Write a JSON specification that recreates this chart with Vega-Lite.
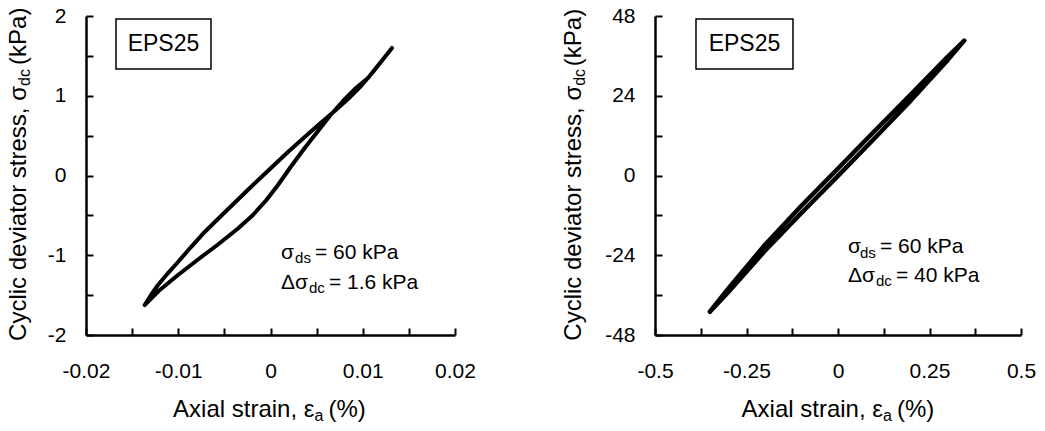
{
  "$schema": "https://vega.github.io/schema/vega-lite/v6.json",
  "background": "white",
  "padding": {"left": 7, "top": 5, "right": 5, "bottom": 5},
  "bounds": "flush",
  "spacing": 200,
  "config": {
    "view": {"stroke": null},
    "font": "Liberation Sans",
    "axis": {
      "domainColor": "black", "domainWidth": 2.5,
      "tickColor": "black", "tickWidth": 2, "tickSize": -7,
      "labelColor": "black", "labelFont": "Liberation Sans", "labelFontSize": 21,
      "labelFlush": false, "labelOverlap": false, "labelBound": false,
      "grid": false
    },
    "axisY": {"labelPadding": 27},
    "axisX": {"labelPadding": 32},
    "text": {"font": "Liberation Sans", "color": "black"}
  },
  "hconcat": [
    {
      "width": 369, "height": 319,
      "data": {"values": [
        {"k": "loop", "i": 0, "x": -0.013637, "y": -1.624},
        {"k": "loop", "i": 1, "x": -0.012100, "y": -1.445},
        {"k": "loop", "i": 2, "x": -0.010027, "y": -1.248},
        {"k": "loop", "i": 3, "x": -0.007859, "y": -1.053},
        {"k": "loop", "i": 4, "x": -0.005691, "y": -0.865},
        {"k": "loop", "i": 5, "x": -0.003523, "y": -0.665},
        {"k": "loop", "i": 6, "x": -0.001897, "y": -0.495},
        {"k": "loop", "i": 7, "x": -0.000488, "y": -0.313},
        {"k": "loop", "i": 8, "x": 0.000813, "y": -0.119},
        {"k": "loop", "i": 9, "x": 0.002222, "y": 0.113},
        {"k": "loop", "i": 10, "x": 0.003707, "y": 0.345},
        {"k": "loop", "i": 11, "x": 0.005149, "y": 0.558},
        {"k": "loop", "i": 12, "x": 0.006558, "y": 0.765},
        {"k": "loop", "i": 13, "x": 0.007859, "y": 0.934},
        {"k": "loop", "i": 14, "x": 0.009268, "y": 1.097},
        {"k": "loop", "i": 15, "x": 0.010569, "y": 1.223},
        {"k": "loop", "i": 16, "x": 0.013171, "y": 1.599},
        {"k": "loop", "i": 17, "x": 0.011111, "y": 1.298},
        {"k": "loop", "i": 18, "x": 0.00981, "y": 1.122},
        {"k": "loop", "i": 19, "x": 0.008401, "y": 0.959},
        {"k": "loop", "i": 20, "x": 0.006959, "y": 0.809},
        {"k": "loop", "i": 21, "x": 0.005366, "y": 0.652},
        {"k": "loop", "i": 22, "x": 0.003707, "y": 0.483},
        {"k": "loop", "i": 23, "x": 0.001897, "y": 0.295},
        {"k": "loop", "i": 24, "x": 0.000054, "y": 0.094},
        {"k": "loop", "i": 25, "x": -0.001789, "y": -0.107},
        {"k": "loop", "i": 26, "x": -0.003523, "y": -0.301},
        {"k": "loop", "i": 27, "x": -0.005366, "y": -0.508},
        {"k": "loop", "i": 28, "x": -0.007133, "y": -0.708},
        {"k": "loop", "i": 29, "x": -0.008618, "y": -0.897},
        {"k": "loop", "i": 30, "x": -0.010027, "y": -1.085},
        {"k": "loop", "i": 31, "x": -0.011111, "y": -1.223},
        {"k": "loop", "i": 32, "x": -0.012195, "y": -1.373},
        {"k": "loop", "i": 33, "x": -0.012954, "y": -1.498},
        {"k": "loop", "i": 34, "x": -0.013637, "y": -1.624},
        {"k": "box", "x": -0.01675, "x2": -0.00645, "y": 1.335, "y2": 1.962},
        {"k": "lab", "x": -0.0116, "y": 1.649, "t": "EPS25"},
        {"k": "am", "x": 0.00114, "y": -1.047, "t": "σ"},
        {"k": "am", "x": 0.00482, "y": -1.047, "t": "= 60 kPa"},
        {"k": "am", "x": 0.00114, "y": -1.423, "t": "Δσ"},
        {"k": "am", "x": 0.00634, "y": -1.423, "t": "= 1.6 kPa"},
        {"k": "as", "x": 0.00266, "y": -1.097, "t": "ds"},
        {"k": "as", "x": 0.00417, "y": -1.473, "t": "dc"},
        {"k": "xt", "x": 0.00477, "y": -3.028, "t": "Axial strain, ε"},
        {"k": "xs", "x": 0.00477, "y": -3.078, "t": "a"},
        {"k": "xe", "x": 0.00629, "y": -3.028, "t": "(%)"},
        {"k": "yt", "x": -0.0265, "y": 1.122, "t": "Cyclic deviator stress, σ"},
        {"k": "ys", "x": -0.02607, "y": 1.122, "t": "dc"},
        {"k": "ye", "x": -0.0265, "y": 1.386, "t": "(kPa)"}
      ]},
      "encoding": {
        "x": {"field": "x", "type": "quantitative", "title": null,
          "scale": {"domain": [-0.02, 0.02], "nice": false, "zero": false},
          "axis": {"values": [-0.02, -0.015, -0.01, -0.005, 0, 0.005, 0.01, 0.015, 0.02],
            "labelExpr": "indexof([-0.02, -0.01, 0, 0.01, 0.02], datum.value) >= 0 ? '' + datum.value : ''"}},
        "y": {"field": "y", "type": "quantitative", "title": null,
          "scale": {"domain": [-2, 2], "nice": false, "zero": false},
          "axis": {"values": [-2, -1.5, -1, -0.5, 0, 0.5, 1, 1.5, 2],
            "labelExpr": "datum.value % 1 === 0 ? '' + datum.value : ''"}}
      },
      "layer": [
        {"transform": [{"filter": "datum.k === 'loop'"}],
         "mark": {"type": "line", "color": "black", "strokeWidth": 4, "strokeCap": "round", "strokeJoin": "round"},
         "encoding": {"order": {"field": "i", "type": "quantitative"}}},
        {"transform": [{"filter": "datum.k === 'box'"}],
         "mark": {"type": "rect", "fill": "white", "stroke": "black", "strokeWidth": 1.5},
         "encoding": {"x2": {"field": "x2"}, "y2": {"field": "y2"}}},
        {"transform": [{"filter": "datum.k === 'lab'"}],
         "mark": {"type": "text", "fontSize": 23, "align": "center", "baseline": "middle"},
         "encoding": {"text": {"field": "t"}}},
        {"transform": [{"filter": "datum.k === 'am'"}],
         "mark": {"type": "text", "fontSize": 21, "align": "left", "baseline": "alphabetic"},
         "encoding": {"text": {"field": "t"}}},
        {"transform": [{"filter": "datum.k === 'as'"}],
         "mark": {"type": "text", "fontSize": 15, "align": "left", "baseline": "alphabetic"},
         "encoding": {"text": {"field": "t"}}},
        {"transform": [{"filter": "datum.k === 'xt'"}],
         "mark": {"type": "text", "fontSize": 24, "align": "right", "baseline": "alphabetic"},
         "encoding": {"text": {"field": "t"}}},
        {"transform": [{"filter": "datum.k === 'xs'"}],
         "mark": {"type": "text", "fontSize": 16, "align": "left", "baseline": "alphabetic"},
         "encoding": {"text": {"field": "t"}}},
        {"transform": [{"filter": "datum.k === 'xe'"}],
         "mark": {"type": "text", "fontSize": 24, "align": "left", "baseline": "alphabetic"},
         "encoding": {"text": {"field": "t"}}},
        {"transform": [{"filter": "datum.k === 'yt'"}],
         "mark": {"type": "text", "fontSize": 24, "align": "right", "baseline": "alphabetic", "angle": 270},
         "encoding": {"text": {"field": "t"}}},
        {"transform": [{"filter": "datum.k === 'ys'"}],
         "mark": {"type": "text", "fontSize": 16, "align": "left", "baseline": "alphabetic", "angle": 270},
         "encoding": {"text": {"field": "t"}}},
        {"transform": [{"filter": "datum.k === 'ye'"}],
         "mark": {"type": "text", "fontSize": 24, "align": "left", "baseline": "alphabetic", "angle": 270},
         "encoding": {"text": {"field": "t"}}}
      ]
    },
    {
      "width": 366, "height": 319,
      "data": {"values": [
        {"k": "loop", "i": 0, "x": -0.35, "y": -41.0},
        {"k": "loop", "i": 1, "x": -0.3, "y": -35.1},
        {"k": "loop", "i": 2, "x": -0.2, "y": -22.7},
        {"k": "loop", "i": 3, "x": -0.1, "y": -11.3},
        {"k": "loop", "i": 4, "x": 0, "y": -0.1},
        {"k": "loop", "i": 5, "x": 0.1, "y": 11.2},
        {"k": "loop", "i": 6, "x": 0.2, "y": 22.7},
        {"k": "loop", "i": 7, "x": 0.3, "y": 34.8},
        {"k": "loop", "i": 8, "x": 0.345, "y": 40.6},
        {"k": "loop", "i": 9, "x": 0.3, "y": 35.8},
        {"k": "loop", "i": 10, "x": 0.2, "y": 24.5},
        {"k": "loop", "i": 11, "x": 0.1, "y": 13.4},
        {"k": "loop", "i": 12, "x": 0, "y": 2.1},
        {"k": "loop", "i": 13, "x": -0.1, "y": -9.1},
        {"k": "loop", "i": 14, "x": -0.2, "y": -20.9},
        {"k": "loop", "i": 15, "x": -0.3, "y": -34.1},
        {"k": "loop", "i": 16, "x": -0.35, "y": -41.0},
        {"k": "box", "x": -0.388, "x2": -0.123, "y": 32.05, "y2": 47.1},
        {"k": "lab", "x": -0.2555, "y": 39.57, "t": "EPS25"},
        {"k": "am", "x": 0.0273, "y": -23.32, "t": "σ"},
        {"k": "am", "x": 0.1148, "y": -23.32, "t": "= 60 kPa"},
        {"k": "am", "x": 0.0273, "y": -32.05, "t": "Δσ"},
        {"k": "am", "x": 0.1585, "y": -32.05, "t": "= 40 kPa"},
        {"k": "as", "x": 0.0601, "y": -24.83, "t": "ds"},
        {"k": "as", "x": 0.1038, "y": -33.25, "t": "dc"},
        {"k": "xt", "x": 0.1230, "y": -72.67, "t": "Axial strain, ε"},
        {"k": "xs", "x": 0.1230, "y": -73.88, "t": "a"},
        {"k": "xe", "x": 0.1612, "y": -72.67, "t": "(%)"},
        {"k": "yt", "x": -0.7022, "y": 27.0, "t": "Cyclic deviator stress, σ"},
        {"k": "ys", "x": -0.6913, "y": 27.0, "t": "dc"},
        {"k": "ye", "x": -0.7022, "y": 32.9, "t": "(kPa)"}
      ]},
      "encoding": {
        "x": {"field": "x", "type": "quantitative", "title": null,
          "scale": {"domain": [-0.5, 0.5], "nice": false, "zero": false},
          "axis": {"values": [-0.5, -0.375, -0.25, -0.125, 0, 0.125, 0.25, 0.375, 0.5],
            "labelExpr": "datum.value % 0.25 === 0 ? '' + datum.value : ''"}},
        "y": {"field": "y", "type": "quantitative", "title": null,
          "scale": {"domain": [-48, 48], "nice": false, "zero": false},
          "axis": {"values": [-48, -36, -24, -12, 0, 12, 24, 36, 48],
            "labelExpr": "datum.value % 24 === 0 ? '' + datum.value : ''"}}
      },
      "layer": [
        {"transform": [{"filter": "datum.k === 'loop'"}],
         "mark": {"type": "line", "color": "black", "strokeWidth": 4.5, "strokeCap": "round", "strokeJoin": "round"},
         "encoding": {"order": {"field": "i", "type": "quantitative"}}},
        {"transform": [{"filter": "datum.k === 'box'"}],
         "mark": {"type": "rect", "fill": "white", "stroke": "black", "strokeWidth": 1.5},
         "encoding": {"x2": {"field": "x2"}, "y2": {"field": "y2"}}},
        {"transform": [{"filter": "datum.k === 'lab'"}],
         "mark": {"type": "text", "fontSize": 23, "align": "center", "baseline": "middle"},
         "encoding": {"text": {"field": "t"}}},
        {"transform": [{"filter": "datum.k === 'am'"}],
         "mark": {"type": "text", "fontSize": 21, "align": "left", "baseline": "alphabetic"},
         "encoding": {"text": {"field": "t"}}},
        {"transform": [{"filter": "datum.k === 'as'"}],
         "mark": {"type": "text", "fontSize": 15, "align": "left", "baseline": "alphabetic"},
         "encoding": {"text": {"field": "t"}}},
        {"transform": [{"filter": "datum.k === 'xt'"}],
         "mark": {"type": "text", "fontSize": 24, "align": "right", "baseline": "alphabetic"},
         "encoding": {"text": {"field": "t"}}},
        {"transform": [{"filter": "datum.k === 'xs'"}],
         "mark": {"type": "text", "fontSize": 16, "align": "left", "baseline": "alphabetic"},
         "encoding": {"text": {"field": "t"}}},
        {"transform": [{"filter": "datum.k === 'xe'"}],
         "mark": {"type": "text", "fontSize": 24, "align": "left", "baseline": "alphabetic"},
         "encoding": {"text": {"field": "t"}}},
        {"transform": [{"filter": "datum.k === 'yt'"}],
         "mark": {"type": "text", "fontSize": 24, "align": "right", "baseline": "alphabetic", "angle": 270},
         "encoding": {"text": {"field": "t"}}},
        {"transform": [{"filter": "datum.k === 'ys'"}],
         "mark": {"type": "text", "fontSize": 16, "align": "left", "baseline": "alphabetic", "angle": 270},
         "encoding": {"text": {"field": "t"}}},
        {"transform": [{"filter": "datum.k === 'ye'"}],
         "mark": {"type": "text", "fontSize": 24, "align": "left", "baseline": "alphabetic", "angle": 270},
         "encoding": {"text": {"field": "t"}}}
      ]
    }
  ]
}
